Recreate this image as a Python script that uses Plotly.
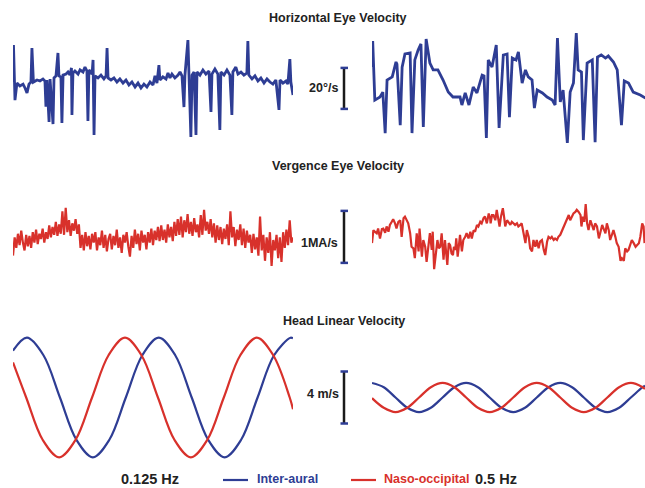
import plotly.graph_objects as go

W, H = 645, 488
BLUE = "#2E3D94"
RED = "#D8312B"
FONT = "Liberation Sans, Arial, Helvetica, sans-serif"

# ---------------- data (time in s, values in panel units) ----------------
# Horizontal eye velocity (deg/s), 0.125 Hz
h_left_t = [0.00, 0.03, 0.12, 0.24, 0.42, 0.61, 0.73, 0.85, 0.97, 1.09, 1.15, 1.24, 1.46, 1.64, 1.82,
            1.94, 2.00, 2.06, 2.19, 2.25, 2.43, 2.49, 2.61, 2.73, 2.79, 2.91, 2.97, 3.04, 3.22, 3.34,
            3.46, 3.55, 3.58, 3.64, 3.76, 3.95, 4.07, 4.25, 4.37, 4.49, 4.55, 4.61, 4.80, 4.86, 4.92,
            4.98, 5.16, 5.34, 5.52, 5.65, 5.71, 5.77, 5.95, 6.13, 6.31, 6.49, 6.68, 6.86, 7.04, 7.22,
            7.41, 7.59, 7.77, 7.95, 8.13, 8.32, 8.50, 8.62, 8.74, 8.86, 8.92, 9.10, 9.29, 9.41, 9.53,
            9.65, 9.83, 10.02, 10.14, 10.26, 10.38, 10.44, 10.62, 10.68, 10.80, 10.87, 10.99, 11.11, 11.17, 11.35,
            11.53, 11.71, 11.90, 12.02, 12.08, 12.26, 12.44, 12.56, 12.62, 12.81, 12.99, 13.17, 13.29, 13.35, 13.53,
            13.66, 13.84, 14.02, 14.20, 14.26, 14.32, 14.51, 14.69, 14.87, 15.05, 15.24, 15.42, 15.60, 15.78, 15.96,
            16.15, 16.21, 16.39, 16.57, 16.69, 16.81, 16.87, 17.00]
h_left_v = [-1.0, 17.1, -9.8, -1.5, -2.9, -2.0, -3.9, -6.3, -2.0, -1.0, 15.6, -1.0, 0.0, -0.5, 0.5,
            -0.5, -13.0, 0.0, -20.5, 0.5, -21.5, 1.0, 2.0, 13.2, 2.0, 1.5, -21.0, 2.4, 2.9, 3.9,
            2.4, 5.9, -17.1, 3.4, 4.4, 2.9, 4.9, 3.9, 6.3, 4.4, -20.0, 4.9, 2.9, 9.8, -26.8,
            2.0, 1.0, 2.4, 0.5, 2.0, 15.6, 1.0, 0.0, 1.0, -1.0, 0.5, -1.5, 0.0, -2.4, -1.0,
            -3.4, -1.5, -3.9, -2.0, -3.4, -1.0, -2.4, 2.0, -1.5, 7.3, 0.0, 1.5, 0.5, 3.4, 1.0,
            2.9, 1.0, 2.4, 3.9, 2.0, -13.2, 2.4, 19.5, 2.0, -27.8, 2.4, 3.9, -26.8, 3.9, 2.4,
            4.9, 2.9, 4.4, -15.6, 2.9, 5.4, 2.9, -24.4, 3.9, 2.4, 4.9, 2.4, -17.1, 3.9, 6.3,
            2.9, 3.9, 2.4, 3.4, 19.0, 2.4, 0.5, 2.0, -0.5, 1.0, -1.5, 0.5, -1.0, -2.0, 0.0,
            -14.6, 0.0, -1.5, -0.5, -2.0, 10.2, -1.0, -7.3]

# Horizontal eye velocity (deg/s), 0.5 Hz
h_right_t = [0.01, 0.015, 0.06, 0.17, 0.23, 0.28, 0.32, 0.43, 0.51, 0.53, 0.60, 0.64, 0.70, 0.81, 0.85,
             0.91, 0.98, 1.04, 1.09, 1.15, 1.23, 1.30, 1.40, 1.51, 1.62, 1.72, 1.87, 1.91, 1.98, 2.06,
             2.15, 2.23, 2.34, 2.38, 2.43, 2.47, 2.55, 2.64, 2.70, 2.79, 2.87, 2.92, 2.98, 3.06, 3.11,
             3.19, 3.26, 3.32, 3.40, 3.45, 3.51, 3.62, 3.72, 3.83, 3.89, 3.94, 4.00, 4.06, 4.15, 4.21,
             4.28, 4.34, 4.38, 4.45, 4.49, 4.57, 4.68, 4.74, 4.79, 4.87, 4.96, 5.02, 5.13, 5.21, 5.30,
             5.36, 5.45, 5.55, 5.70, 5.81]
h_right_v = [6.3, 19.0, -9.8, -8.3, -5.9, -25.9, 0.0, 1.5, 8.8, 7.8, -22.0, 6.3, 12.7, 13.2, -25.9,
             9.8, 14.6, 17.6, -22.9, 20.0, 8.3, 4.9, 4.9, 0.0, -5.9, -8.3, -8.3, -12.2, -6.3, -12.2,
             -3.4, -6.3, 2.4, 2.0, -28.3, 9.8, 6.3, 17.1, -23.4, 12.2, 12.7, -18.1, 10.7, 9.8, 13.7,
             -1.5, 4.9, 1.5, 0.0, -13.7, -4.9, -6.3, -8.3, -9.8, -12.2, 20.5, -10.7, -4.9, -30.7, -5.9,
             -1.5, 22.9, 4.9, 3.9, -29.3, 8.3, 9.8, -30.3, 11.2, 12.2, 10.7, 11.7, 8.8, 4.9, -22.0,
             -0.5, -1.5, -5.9, -7.3, -8.8]

# Vergence eye velocity (MA/s), 0.125 Hz, sampled every 0.1 s
v_left_dt = 0.1
v_left_v = [-0.30, 0.05, -0.15, 0.12, -0.10, 0.18, -0.05, -0.20, 0.10, -0.12,
            0.08, -0.15, 0.15, -0.05, 0.20, -0.08, 0.12, 0.02, 0.22, -0.05,
            0.15, 0.02, 0.28, 0.05, 0.25, 0.10, 0.35, 0.08, 0.30, 0.12,
            0.55, 0.10, 0.62, 0.15, 0.38, 0.08, 0.32, 0.18, 0.40, 0.12,
            0.30, -0.15, 0.10, -0.20, 0.15, -0.12, 0.08, -0.18, 0.12, -0.05,
            0.15, -0.20, 0.05, -0.10, 0.18, -0.15, 0.10, -0.22, 0.02, 0.12,
            -0.18, 0.08, -0.10, 0.20, -0.15, 0.05, -0.25, 0.10, -0.05, 0.15,
            -0.12, -0.32, 0.08, -0.15, 0.20, -0.08, 0.12, -0.20, 0.18, -0.05,
            0.10, -0.18, 0.15, -0.05, 0.22, -0.10, 0.18, 0.00, 0.25, -0.02,
            0.28, 0.00, 0.20, -0.05, 0.30, 0.05, 0.25, -0.02, 0.35, 0.08,
            0.40, 0.10, 0.45, 0.05, 0.38, 0.15, 0.50, 0.12, 0.35, 0.08,
            0.42, 0.15, 0.30, 0.05, 0.48, 0.10, 0.58, 0.18, 0.35, 0.12,
            0.40, 0.05, 0.32, -0.05, 0.28, 0.00, 0.25, -0.08, 0.22, 0.02,
            0.30, -0.10, 0.55, 0.05, 0.25, -0.12, 0.20, 0.00, 0.30, -0.10,
            0.22, -0.15, 0.18, -0.05, 0.10, -0.25, 0.12, -0.18, 0.05, -0.30,
            0.45, -0.20, 0.10, -0.40, 0.05, -0.25, 0.15, -0.50, 0.00, -0.20,
            0.10, -0.35, 0.05, -0.42, 0.15, -0.15, 0.20, -0.10, 0.38, -0.05,
            0.05]

# Vergence eye velocity (MA/s), 0.5 Hz
v_right_t = [0.00, 0.03, 0.06, 0.10, 0.13, 0.17, 0.21, 0.24, 0.28, 0.31, 0.35, 0.38, 0.42, 0.45, 0.49,
             0.52, 0.56, 0.60, 0.63, 0.67, 0.70, 0.74, 0.77, 0.81, 0.84, 0.88, 0.91, 0.95, 0.99, 1.01,
             1.06, 1.09, 1.13, 1.16, 1.20, 1.23, 1.27, 1.29, 1.32, 1.35, 1.39, 1.42, 1.45, 1.48, 1.52,
             1.55, 1.57, 1.60, 1.63, 1.66, 1.69, 1.72, 1.74, 1.77, 1.79, 1.82, 1.84, 1.87, 1.91, 1.94,
             1.98, 2.01, 2.05, 2.09, 2.12, 2.16, 2.19, 2.23, 2.26, 2.30, 2.33, 2.37, 2.40, 2.44, 2.48,
             2.51, 2.52, 2.55, 2.58, 2.62, 2.65, 2.68, 2.71, 2.74, 2.78, 2.81, 2.83, 2.87, 2.90, 2.94,
             2.97, 3.01, 3.04, 3.08, 3.11, 3.15, 3.18, 3.22, 3.26, 3.29, 3.33, 3.36, 3.40, 3.43, 3.47,
             3.50, 3.54, 3.57, 3.61, 3.65, 3.68, 3.72, 3.75, 3.79, 3.82, 3.86, 3.89, 3.93, 3.96, 4.00,
             4.04, 4.07, 4.11, 4.14, 4.18, 4.21, 4.25, 4.28, 4.32, 4.35, 4.39, 4.43, 4.45, 4.48, 4.51,
             4.54, 4.57, 4.60, 4.64, 4.67, 4.71, 4.74, 4.78, 4.82, 4.85, 4.89, 4.92, 4.96, 4.99, 5.03,
             5.06, 5.10, 5.13, 5.17, 5.20, 5.24, 5.28, 5.31, 5.35, 5.38, 5.42, 5.45, 5.49, 5.52, 5.56,
             5.60, 5.63, 5.67, 5.70, 5.74, 5.77, 5.79]
v_right_v = [-0.06, 0.19, 0.16, 0.13, 0.22, 0.03, 0.21, 0.22, 0.14, 0.26, 0.16, 0.29, 0.35, 0.40, 0.32,
             0.22, 0.35, 0.38, 0.06, 0.42, 0.45, 0.38, 0.32, 0.13, -0.13, -0.16, -0.35, 0.13, -0.22, 0.22,
             -0.32, 0.00, -0.13, -0.42, -0.06, 0.13, -0.19, 0.16, -0.56, -0.26, 0.00, -0.16, -0.13, 0.13, -0.38,
             0.00, -0.19, -0.48, -0.06, -0.10, -0.26, -0.29, -0.13, -0.19, 0.03, -0.32, -0.16, 0.10, -0.22, 0.00,
             0.06, 0.13, 0.03, 0.16, 0.03, 0.19, 0.16, 0.29, 0.26, 0.35, 0.32, 0.42, 0.45, 0.32, 0.51,
             0.42, 0.32, 0.48, 0.48, 0.38, 0.58, 0.45, 0.26, 0.45, 0.61, 0.42, 0.26, 0.38, 0.35, 0.29,
             0.35, 0.32, 0.29, 0.32, 0.26, 0.29, 0.32, 0.13, -0.06, 0.19, 0.06, -0.16, -0.22, 0.00, -0.13,
             0.00, -0.16, -0.03, 0.00, -0.19, -0.29, -0.03, 0.06, 0.03, 0.06, 0.00, 0.03, 0.00, 0.06, 0.10,
             0.19, 0.26, 0.35, 0.42, 0.48, 0.38, 0.45, 0.51, 0.54, 0.58, 0.54, 0.48, 0.26, 0.45, 0.35,
             0.69, 0.32, 0.19, 0.38, 0.29, 0.19, 0.32, 0.26, 0.03, 0.13, 0.29, 0.22, 0.13, 0.32, 0.19,
             0.00, 0.13, 0.19, 0.06, -0.06, -0.13, -0.40, -0.35, -0.40, -0.16, -0.22, -0.19, -0.10, 0.00, -0.06,
             -0.13, -0.10, -0.06, 0.06, 0.32, 0.26, -0.06]

# Head linear velocity (m/s), 0.125 Hz
head_left_t_ia = [0.0, 0.85, 1.85, 2.85, 3.85, 4.85, 5.85, 6.85, 7.85, 8.85, 9.85, 10.85, 11.85, 12.85,
                  13.85, 14.85, 15.85, 16.85, 17.0]
head_left_ia = [3.6, 4.6, 3.25, 0.0, -3.25, -4.6, -3.25, 0.0, 3.25, 4.6, 3.25, 0.0, -3.25, -4.6,
                -3.25, 0.0, 3.25, 4.6, 4.55]
head_left_t_no = [0.0, 0.8, 1.8, 2.8, 3.8, 4.8, 5.8, 6.8, 7.8, 8.8, 9.8, 10.8, 11.8, 12.8,
                  13.8, 14.8, 15.8, 16.8, 17.0]
head_left_no = [2.7, 0.0, -3.25, -4.6, -3.25, 0.0, 3.25, 4.6, 3.25, 0.0, -3.25, -4.6, -3.25, 0.0,
                3.25, 4.6, 3.25, 0.0, -0.9]

# Head linear velocity (m/s), 0.5 Hz
head_right_t = [0.0, 0.25, 0.5, 0.75, 1.0, 1.25, 1.5, 1.75, 2.0, 2.25, 2.5, 2.75, 3.0, 3.25, 3.5,
                3.75, 4.0, 4.25, 4.5, 4.75, 5.0, 5.25, 5.5, 5.75, 5.8]
head_right_ia = [1.12, 0.79, 0.0, -0.79, -1.12, -0.79, 0.0, 0.79, 1.12, 0.79, 0.0, -0.79, -1.12, -0.79, 0.0,
                 0.79, 1.12, 0.79, 0.0, -0.79, -1.12, -0.79, 0.0, 0.79, 0.9]
head_right_no = [-0.05, -0.79, -1.12, -0.79, 0.0, 0.79, 1.12, 0.79, 0.0, -0.79, -1.12, -0.79, 0.0, 0.79, 1.12,
                 0.79, 0.0, -0.79, -1.12, -0.79, 0.0, 0.79, 1.12, 0.79, 0.65]

row_titles = ["Horizontal Eye Velocity", "Vergence Eye Velocity", "Head Linear Velocity"]
scale_labels = ["20°/s", "1MA/s", "4 m/s"]
scale_values = [20, 1, 4]
scale_bottoms = [-14.1, -0.44, -2.0]
freq_labels = ["0.125 Hz", "0.5 Hz"]
legend_labels = ["Inter-aural", "Naso-occipital"]

v_left_t = [round(i * v_left_dt, 2) for i in range(len(v_left_v))]

# ---------------- layout geometry (pixels) ----------------
def px(x):
    return x / W

def py(y):
    return 1 - y / H

cols = [(13, 293, 17.0), (372, 645, 5.8)]           # x px span, time span (s)
rows = [(25, 150, 80, 2.05), (195, 285, 240, 52.0), (330, 465, 397.5, 13.0)]  # top, bottom, zero px, px/unit

fig = go.Figure()

def add(x, y, panel, color, width, shape="linear"):
    suffix = "" if panel == 1 else str(panel)
    fig.add_trace(go.Scatter(x=x, y=y, xaxis="x" + suffix, yaxis="y" + suffix, mode="lines",
                             line=dict(color=color, width=width, shape=shape),
                             hoverinfo="skip", showlegend=False))

add(h_left_t, h_left_v, 1, BLUE, 2.8)
add(h_right_t, h_right_v, 2, BLUE, 2.8)
add(v_left_t, v_left_v, 3, RED, 2.2)
add(v_right_t, v_right_v, 4, RED, 2.2)
add(head_left_t_ia, head_left_ia, 5, BLUE, 2.2, "spline")
add(head_left_t_no, head_left_no, 5, RED, 2.2, "spline")
add(head_right_t, head_right_ia, 6, BLUE, 2.2, "spline")
add(head_right_t, head_right_no, 6, RED, 2.2, "spline")

layout = dict(width=W, height=H, margin=dict(l=0, r=0, t=0, b=0),
              paper_bgcolor="white", plot_bgcolor="rgba(0,0,0,0)", showlegend=False)
panel = 1
for (top, bot, zero, ppu) in rows:
    for (x0, x1, tspan) in cols:
        suffix = "" if panel == 1 else str(panel)
        layout["xaxis" + suffix] = dict(domain=[px(x0), px(x1)], range=[0, tspan], visible=False,
                                        anchor="y" + suffix, fixedrange=True)
        layout["yaxis" + suffix] = dict(domain=[py(bot), py(top)],
                                        range=[-(bot - zero) / ppu, (zero - top) / ppu],
                                        visible=False, anchor="x" + suffix, fixedrange=True)
        panel += 1
fig.update_layout(**layout)

# scale bars
bar_x = px(344)
shapes = []
yrefs = ["y", "y3", "y5"]
for yr, b, v in zip(yrefs, scale_bottoms, scale_values):
    shapes.append(dict(type="line", xref="paper", yref=yr, x0=bar_x, x1=bar_x, y0=b, y1=b + v,
                       line=dict(color="#1a1a1a", width=2.5)))
    for yy in (b, b + v):
        shapes.append(dict(type="line", xref="paper", yref=yr, x0=px(340.5), x1=px(348), y0=yy, y1=yy,
                           line=dict(color=BLUE, width=2.5)))
# legend line samples
shapes.append(dict(type="line", xref="paper", yref="paper", x0=px(223), x1=px(248), y0=py(480), y1=py(480),
                   line=dict(color=BLUE, width=2.2)))
shapes.append(dict(type="line", xref="paper", yref="paper", x0=px(351), x1=px(376), y0=py(480), y1=py(480),
                   line=dict(color=RED, width=2.2)))
fig.update_layout(shapes=shapes)

ann = []
def text(s, x, y, size, color="#222222", anchor="center"):
    ann.append(dict(text="<b>%s</b>" % s, x=px(x), y=py(y), xref="paper", yref="paper",
                    xanchor=anchor, yanchor="middle", showarrow=False,
                    font=dict(family=FONT, size=size, color=color)))

text(row_titles[0], 338, 18, 12.5)
text(row_titles[1], 338, 166, 12.5)
text(row_titles[2], 344, 321, 12.5)
text(scale_labels[0], 340, 88, 12.5, anchor="right")
text(scale_labels[1], 340, 243, 12.5, anchor="right")
text(scale_labels[2], 341, 394, 12.5, anchor="right")
text(freq_labels[0], 150, 479, 14.5)
text(legend_labels[0], 255, 479, 12.5, BLUE, "left")
text(legend_labels[1], 382, 479, 12.5, RED, "left")
text(freq_labels[1], 473, 479, 14.5, anchor="left")
fig.update_layout(annotations=ann)

fig.write_html("out.html")
